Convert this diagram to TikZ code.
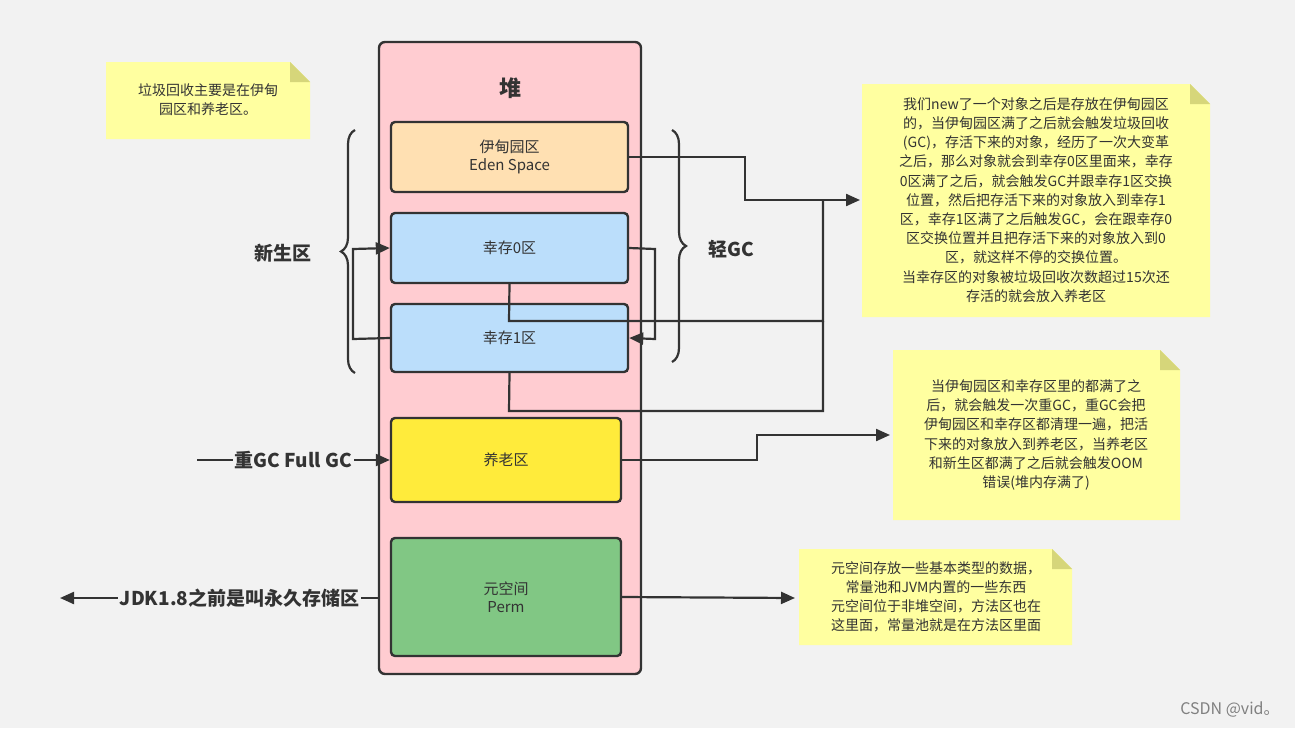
\documentclass[tikz,border=0pt]{standalone}
\usepackage{fontspec}
\setmainfont{Noto Sans CJK SC}
\usetikzlibrary{arrows.meta,decorations.pathreplacing}
\definecolor{bg}{HTML}{F2F2F2}
\definecolor{ln}{HTML}{333333}
\definecolor{heap}{HTML}{FFCCD1}
\definecolor{eden}{HTML}{FFE0B2}
\definecolor{surv}{HTML}{BBDEFB}
\definecolor{old}{HTML}{FFEB3B}
\definecolor{perm}{HTML}{81C784}
\definecolor{note}{HTML}{FFFFA0}
\definecolor{fold}{HTML}{D6D67A}
\begin{document}
\begin{tikzpicture}[x=0.5pt,y=-0.5pt,
  box/.style={draw=ln,line width=1.2pt,rounded corners=2pt,align=center,font=\fontsize{7.5}{9}\selectfont,text=ln},
  wire/.style={draw=ln,line width=1.1pt},
  arr/.style={wire,-{Triangle[length=7pt,width=6pt]}},
  notetext/.style={align=center,font=\fontsize{7}{9.6}\selectfont,text=ln},
  big/.style={font=\bfseries\fontsize{9.5}{11}\selectfont,text=ln}]
\fill[bg] (0,0) rectangle (1295,728);
\useasboundingbox (0,0) rectangle (1295,728);
% notes
\newcommand\mynote[5]{%
 \fill[note] (#1,#2) -- (#3-20,#2) -- (#3,#2+20) -- (#3,#4) -- (#1,#4) -- cycle;
 \fill[fold] (#3-20,#2) -- (#3,#2+20) -- (#3-20,#2+20) -- cycle;}
\mynote{106}{62}{310}{139}{n1}
\mynote{862}{84}{1210}{317}{n2}
\mynote{893}{350}{1180}{520}{n3}
\mynote{799}{549}{1072}{645}{n4}
\node[notetext] (t1) at (208,100) {垃圾回收主要是在伊甸\\园区和养老区。};
\node[notetext] (t2) at (1036,200) {我们new了一个对象之后是存放在伊甸园区\\的，当伊甸园区满了之后就会触发垃圾回收\\(GC)，存活下来的对象，经历了一次大变革\\之后，那么对象就会到幸存0区里面来，幸存\\0区满了之后，就会触发GC并跟幸存1区交换\\位置，然后把存活下来的对象放入到幸存1\\区，幸存1区满了之后触发GC，会在跟幸存0\\区交换位置并且把存活下来的对象放入到0\\区，就这样不停的交换位置。\\当幸存区的对象被垃圾回收次数超过15次还\\存活的就会放入养老区};
\node[notetext] (t3) at (1036,435) {当伊甸园区和幸存区里的都满了之\\后，就会触发一次重GC，重GC会把\\伊甸园区和幸存区都清理一遍，把活\\下来的对象放入到养老区，当养老区\\和新生区都满了之后就会触发OOM\\错误(堆内存满了)};
\node[notetext] (t4) at (936,597) {元空间存放一些基本类型的数据，\\常量池和JVM内置的一些东西\\元空间位于非堆空间，方法区也在\\这里面，常量池就是在方法区里面};
% heap
\fill[heap,draw=ln,line width=1.2pt,rounded corners=3pt] (379,42) rectangle (641,674);
\node[big,font=\bfseries\fontsize{11}{12}\selectfont] (hl) at (510,88) {堆};
\newcommand\mybox[6]{\node[box,fill=#6,minimum width={(#3-#1)*0.5pt},minimum height={(#4-#2)*0.5pt},inner sep=0] (#5) at ({(#1+#3)/2},{(#2+#4)/2})}
\mybox{391}{122}{628}{192}{eden}{eden} {伊甸园区\\Eden Space};
\mybox{391}{213}{628}{283}{s0}{surv} {幸存0区};
\mybox{391}{304}{628}{372}{s1}{surv} {幸存1区};
\mybox{391}{418}{621}{502}{old}{old} {养老区};
\mybox{391}{538}{621}{656}{perm}{perm} {元空间\\Perm};
% braces
\draw[ln,line width=1.1pt,decorate,decoration={brace,amplitude=7pt}] (355,373) -- (355,130);
\draw[ln,line width=1.1pt,decorate,decoration={brace,amplitude=7pt}] (672,130) -- (672,362);
\node[big] (xs) at (283,253) {新生区};
\node[big] (qgc) at (731,249) {轻GC};
% connectors
\coordinate (j) at (823,200);
\coordinate (e1) at (860,200);
\draw[arr] (eden.east) -- (745,157) -- (745,200) -- (e1);
\draw[wire] (s0.south) -- (509,321) -- (823,321) -- (j);
\draw[wire] (s1.south) -- (509,411) -- (823,411) -- (823,321);
\draw[arr] (s0.east) -- (655,249) -- (655,339) -- (s1.east);
\draw[arr] (s1.west) -- (353,339) -- (353,249) -- (s0.west);
\coordinate (e3) at (890,435);
\draw[arr] (old.east) -- (757,460) -- (757,435) -- (e3);
\coordinate (fg) at (197,460);
\draw[arr] (fg) -- node[fill=bg,big,inner sep=1pt] (fgl) {重GC Full GC} (old.west);
\coordinate (e4) at (795,598);
\draw[arr] (perm.east) -- (e4);
\coordinate (jl) at (60,598);
\coordinate (js) at (379,598);
\draw[arr] (js) -- node[fill=bg,big,inner sep=1pt,pos=0.14,anchor=east,xshift=14pt] (jdl) {JDK1.8之前是叫永久存储区} (jl);
\node[font=\fontsize{8}{10}\selectfont,text=gray] (csdn) at (1230,710) {CSDN @vid。};
\end{tikzpicture}
\end{document}
